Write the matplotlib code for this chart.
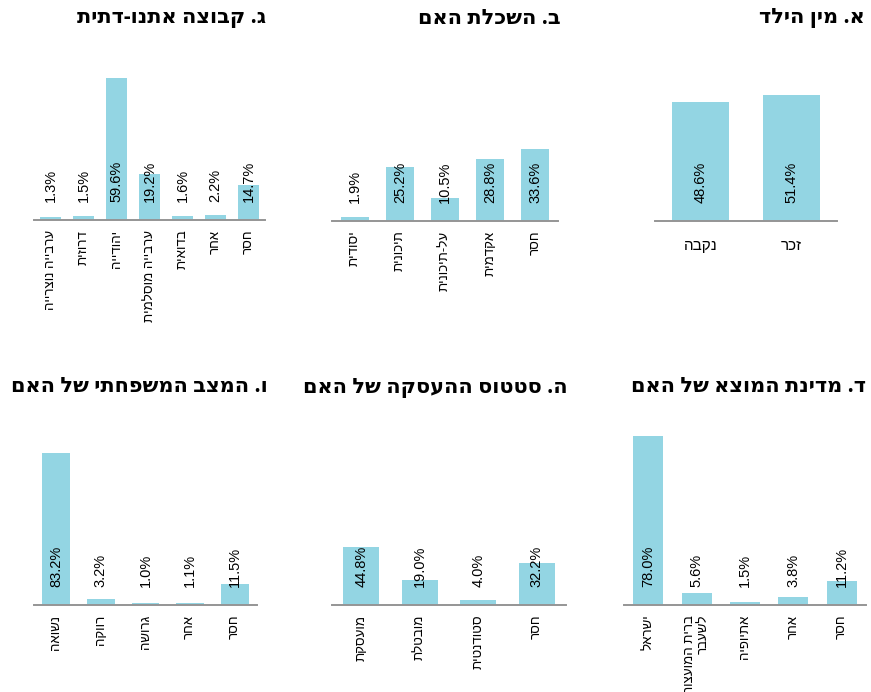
import matplotlib
matplotlib.use('Agg')
import matplotlib.pyplot as plt

plt.rcParams['font.family'] = ['Liberation Sans', 'DejaVu Sans']

# --- data (Hebrew, logical order) ---
child_sex = ['נקבה', 'זכר']
child_sex_pct = [48.6, 51.4]

mother_edu = ['יסודית', 'תיכונית', 'על-תיכונית', 'אקדמית', 'חסר']
mother_edu_pct = [1.9, 25.2, 10.5, 28.8, 33.6]

ethnic = ['ערבייה נוצרייה', 'דרוזית', 'יהודייה', 'ערבייה מוסלמית', 'בדואית', 'אחר', 'חסר']
ethnic_pct = [1.3, 1.5, 59.6, 19.2, 1.6, 2.2, 14.7]

origin = ['ישראל', 'ברית המועצות\nלשעבר', 'אתיופיה', 'אחר', 'חסר']
origin_pct = [78.0, 5.6, 1.5, 3.8, 11.2]

employment = ['מועסקת', 'מובטלת', 'סטודנטית', 'חסר']
employment_pct = [44.8, 19.0, 4.0, 32.2]

marital = ['נשואה', 'רווקה', 'גרושה', 'אחר', 'חסר']
marital_pct = [83.2, 3.2, 1.0, 1.1, 11.5]

titles = ['א. מין הילד', 'ב. השכלת האם', 'ג. קבוצה אתנו-דתית',
          'ד. מדינת המוצא של האם', 'ה. סטטוס ההעסקה של האם', 'ו. המצב המשפחתי של האם']

BAR = '#93d5e3'
W, H = 871, 692


def rtl(s):
    # matplotlib has no bidi support, so flip each line to visual order
    return '\n'.join(line[::-1] for line in s.split('\n'))


fig = plt.figure(figsize=(W / 100, H / 100), dpi=100)

# (categories, values, title, left px, right px, axis y px, top y px, ymax, title right px, title y px, rotate)
panels = [
    (child_sex, child_sex_pct, titles[0], 655, 837, 221, 60, 65.7, 865, 18, False),
    (mother_edu, mother_edu_pct, titles[1], 332, 558, 221, 60, 75.1, 561, 18, True),
    (ethnic, ethnic_pct, titles[2], 34, 265, 220, 60, 67.1, 266, 18, True),
    (origin, origin_pct, titles[3], 624, 866, 605, 420, 85.4, 866, 387, True),
    (employment, employment_pct, titles[4], 332, 566, 605, 420, 142.9, 568, 387, True),
    (marital, marital_pct, titles[5], 34, 257, 605, 420, 101.3, 268, 387, True),
]

for cats, vals, title, x0, x1, yb, yt, ymax, tx, ty, rot in panels:
    ax = fig.add_axes([x0 / W, 1 - yb / H, (x1 - x0) / W, (yb - yt) / H])
    n = len(cats)
    ax.bar(range(n), vals, width=0.62, color=BAR)
    ax.set_xlim(-0.5, n - 0.5)
    ax.set_ylim(0, ymax)
    for s in ['top', 'left', 'right']:
        ax.spines[s].set_visible(False)
    ax.spines['bottom'].set_color('#959595')
    ax.spines['bottom'].set_linewidth(1.4)
    ax.set_yticks([])
    ax.set_xticks(range(n))
    labels = [rtl(c) for c in cats]
    if rot:
        ax.tick_params(axis='x', length=0, pad=7)
        ax.set_xticklabels(labels, rotation=90, va='top', ha='center',
                           multialignment='right', fontsize=9.5)
    else:
        ax.tick_params(axis='x', length=0, pad=13)
        ax.set_xticklabels(labels, fontsize=11)
    for i, v in enumerate(vals):
        ax.annotate(f'{v:.1f}%', xy=(i, 0), xytext=(0, 13), textcoords='offset points',
                    rotation=90, ha='center', va='bottom', fontsize=10.5)
    fig.text(tx / W, 1 - ty / H, rtl(title), ha='right', va='center',
             fontsize=15, fontweight='bold', family=['Open Sans', 'DejaVu Sans'])

fig.savefig('out.png', dpi=100)
